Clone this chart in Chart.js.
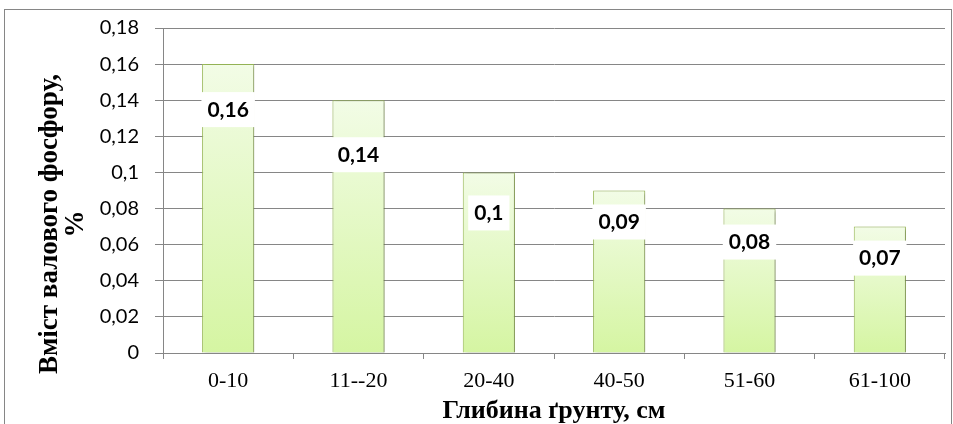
<!DOCTYPE html>
<html>
<head>
  <meta charset="utf-8">
  <script src="https://cdn.jsdelivr.net/npm/chart.js"></script>
  <title>Вміст валового фосфору</title>
  <style>
    body { margin: 0; background: #fff; }
  </style>
</head>
<body>
  <canvas id="chart" width="953" height="424"></canvas>

  <script>
    // data
    let depths = ['0-10', '11--20', '20-40', '40-50', '51-60', '61-100'];
    let phosphorus = [0.16, 0.14, 0.1, 0.09, 0.08, 0.07];
    // label boxes were moved by hand in the original, pixel shift below bar top
    let labelShift = [45, 54, 40, 31, 33, 31];

    let yTitle = ['Вміст валового фосфору,', '%'];
    let xTitle = 'Глибина ґрунту, см';

    function comma(v) {
      return (Math.round(v * 100) / 100).toString().replace('.', ',');
    }

    // per-bar gradient, light at the top
    function barFill(c) {
      let chart = c.chart;
      if (!chart.chartArea) return '#e4f8c4';
      let y = chart.scales.y;
      let top = y.getPixelForValue(c.raw);
      let bottom = y.getPixelForValue(0);
      let g = chart.ctx.createLinearGradient(0, top, 0, bottom);
      g.addColorStop(0, '#f2fce6');
      g.addColorStop(1, '#d5f5a2');
      return g;
    }

    let frame = {
      id: 'frame',
      beforeDraw(chart) {
        let ctx = chart.ctx;
        ctx.save();
        ctx.fillStyle = '#fff';
        ctx.fillRect(0, 0, chart.width, chart.height);
        ctx.strokeStyle = '#868686';
        ctx.lineWidth = 1;
        ctx.strokeRect(4.5, 9.5, 947, 430);
        ctx.restore();
      },
      beforeDatasetsDraw(chart) {
        let ctx = chart.ctx;
        ctx.save();
        ctx.shadowColor = 'rgba(0,0,0,0.3)';
        ctx.shadowBlur = 3;
        ctx.shadowOffsetX = 2;
        ctx.shadowOffsetY = 1;
      },
      afterDatasetsDraw(chart) {
        let ctx = chart.ctx;
        ctx.restore();

        // value labels in white boxes
        ctx.save();
        ctx.font = 'bold 21px Lato';
        ctx.textAlign = 'center';
        ctx.textBaseline = 'middle';
        chart.getDatasetMeta(0).data.forEach((bar, i) => {
          let text = comma(phosphorus[i]);
          let w = ctx.measureText(text).width + 12;
          let cy = bar.y + labelShift[i];
          ctx.fillStyle = '#fff';
          ctx.fillRect(bar.x - w / 2, cy - 17, w, 35);
          ctx.fillStyle = '#000';
          ctx.fillText(text, bar.x, cy + 1);
        });
        ctx.restore();
      },
      afterDraw(chart) {
        let ctx = chart.ctx;
        let area = chart.chartArea;
        ctx.save();
        ctx.fillStyle = '#000';
        ctx.textAlign = 'center';
        ctx.textBaseline = 'middle';

        ctx.font = 'bold 26px "Liberation Serif"';
        ctx.fillText(xTitle, (area.left + area.right) / 2, 411);

        ctx.font = 'bold 27px "Liberation Serif"';
        ctx.translate(0, 224);
        ctx.rotate(-Math.PI / 2);
        ctx.fillText(yTitle[0], 0, 50);
        ctx.fillText(yTitle[1], 0, 76);
        ctx.restore();
      }
    };

    new Chart(document.getElementById('chart'), {
      type: 'bar',
      data: {
        labels: depths,
        datasets: [{
          data: phosphorus,
          backgroundColor: barFill,
          borderColor: '#9bbb59',
          borderWidth: 1,
          barPercentage: 0.4,
          categoryPercentage: 1
        }]
      },
      options: {
        responsive: false,
        animation: false,
        layout: { padding: { top: 25, right: 8, left: 0, bottom: 0 } },
        plugins: {
          legend: { display: false },
          tooltip: { enabled: false }
        },
        scales: {
          x: {
            grid: {
              drawOnChartArea: false,
              drawTicks: true,
              tickLength: 6,
              color: '#868686'
            },
            border: { color: '#868686' },
            ticks: {
              color: '#000',
              font: { family: 'Liberation Serif', size: 22 },
              padding: 9,
              maxRotation: 0
            },
            afterFit(s) { s.height = 71; }
          },
          y: {
            min: 0,
            max: 0.18,
            grid: {
              color: '#868686',
              tickLength: 8
            },
            border: { color: '#868686' },
            ticks: {
              stepSize: 0.02,
              color: '#000',
              font: { family: 'Lato', size: 20 },
              padding: 16,
              callback: v => comma(v)
            },
            afterFit(s) { s.width = 163; }
          }
        }
      },
      plugins: [frame]
    });
  </script>
</body>
</html>
